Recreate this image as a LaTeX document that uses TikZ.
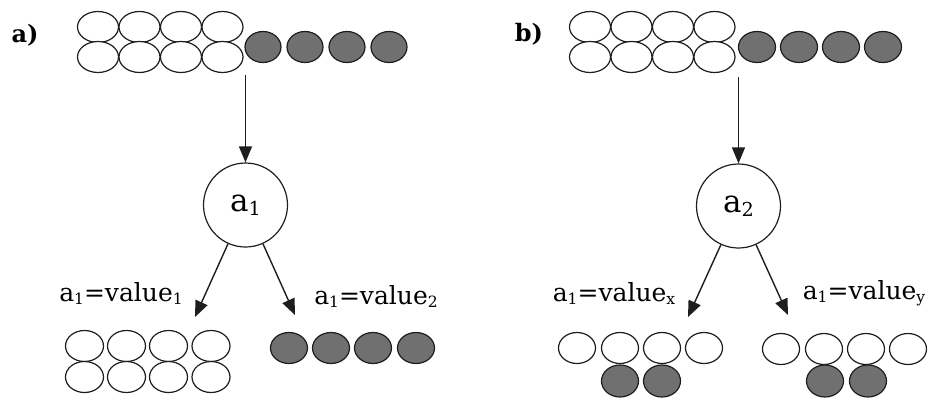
\documentclass[tikz,border=0pt]{standalone}
\usepackage{fontspec}
\usepackage{graphicx}
\setmainfont{DejaVu Serif}
\usetikzlibrary{shapes.geometric,arrows.meta}
\definecolor{ballgray}{RGB}{112,112,112}
\definecolor{inkc}{RGB}{30,30,30}
\newcommand\lowsub[1]{\raisebox{-0.12em}{\scalebox{0.62}{#1}}}
\tikzset{
  wball/.style={ellipse, draw=inkc, line width=1.2pt, fill=white, inner sep=0pt, minimum width=#1, minimum height=31pt},
  wball/.default=40pt,
  gball/.style={ellipse, draw=inkc, line width=1.2pt, fill=ballgray, inner sep=0pt, minimum width=#1, minimum height=31pt},
  gball/.default=36pt,
  attr/.style={circle, draw=inkc, line width=1.2pt, minimum size=84pt, inner sep=0pt, font=\fontsize{31}{34}\selectfont},
  lab/.style={font=\fontsize{25}{28}\selectfont, inner sep=0pt},
  plab/.style={font=\fontsize{24}{28}\selectfont\bfseries, inner sep=0pt},
  arr/.style={draw=inkc, line width=1.4pt, -{Triangle[length=16pt,width=13pt]}}
}
\begin{document}
\begin{tikzpicture}[x=1pt,y=-1pt]
\useasboundingbox (0,0) rectangle (935,399);
% ---------- panel a ----------
\node[plab] (pa) at (25,35) {a)};
\foreach \i/\x in {1/98,2/139.5,3/181,4/222.5}{
  \node[wball=41pt] (aT\i) at (\x,27) {};
  \node[wball=41pt] (aB\i) at (\x,57) {};
}
\foreach \i/\x in {1/263,2/305,3/347,4/389}{
  \node[gball=36pt] (aG\i) at (\x,47) {};
}
\coordinate (aS) at (245.5,75);
\node[attr] (a1) at (245.5,205) {a\lowsub{1}};
\draw[arr] (aS) -- (a1);
\coordinate (aL) at (195,317);
\coordinate (aR) at (295,315);
\draw[arr] (a1) -- (aL);
\draw[arr] (a1) -- (aR);
\node[lab] (aLl) at (121,293) {a\lowsub{1}=value\lowsub{1}};
\node[lab] (aRl) at (376,296) {a\lowsub{1}=value\lowsub{2}};
\foreach \i/\x in {1/84.5,2/126.5,3/168.5,4/211}{
  \node[wball=38pt, minimum height=31pt] (aLT\i) at (\x,346) {};
  \node[wball=38pt, minimum height=31pt] (aLB\i) at (\x,377) {};
}
\foreach \i/\x in {1/289,2/331,3/373,4/416}{
  \node[gball=37pt] (aRG\i) at (\x,348) {};
}
% ---------- panel b ----------
\node[plab] (pb) at (529,34) {b)};
\foreach \i/\x in {1/590,2/631.5,3/673,4/714.5}{
  \node[wball=41pt] (bT\i) at (\x,27) {};
  \node[wball=41pt] (bB\i) at (\x,57) {};
}
\foreach \i/\x in {1/757,2/799,3/841,4/883}{
  \node[gball=37pt] (bG\i) at (\x,47) {};
}
\coordinate (bS) at (738.5,77);
\node[attr] (a2) at (738.5,206) {a\lowsub{2}};
\draw[arr] (bS) -- (a2);
\coordinate (bL) at (688,317);
\coordinate (bR) at (788,315);
\draw[arr] (a2) -- (bL);
\draw[arr] (a2) -- (bR);
\node[lab] (bLl) at (614,293) {a\lowsub{1}=value\lowsub{x}};
\node[lab] (bRl) at (864,293) {a\lowsub{1}=value\lowsub{y}};
\foreach \i/\x in {1/577,2/620,3/662,4/704}{
  \node[wball=37pt] (bLT\i) at (\x,348) {};
}
\foreach \i/\x in {2/620,3/662}{
  \node[gball=37pt, minimum height=32pt] (bLG\i) at (\x,381) {};
}
\foreach \i/\x in {1/781,2/824,3/866,4/908}{
  \node[wball=37pt] (bRT\i) at (\x,349) {};
}
\foreach \i/\x in {2/825,3/868}{
  \node[gball=37pt, minimum height=32pt] (bRG\i) at (\x,381) {};
}
\end{tikzpicture}
\end{document}
